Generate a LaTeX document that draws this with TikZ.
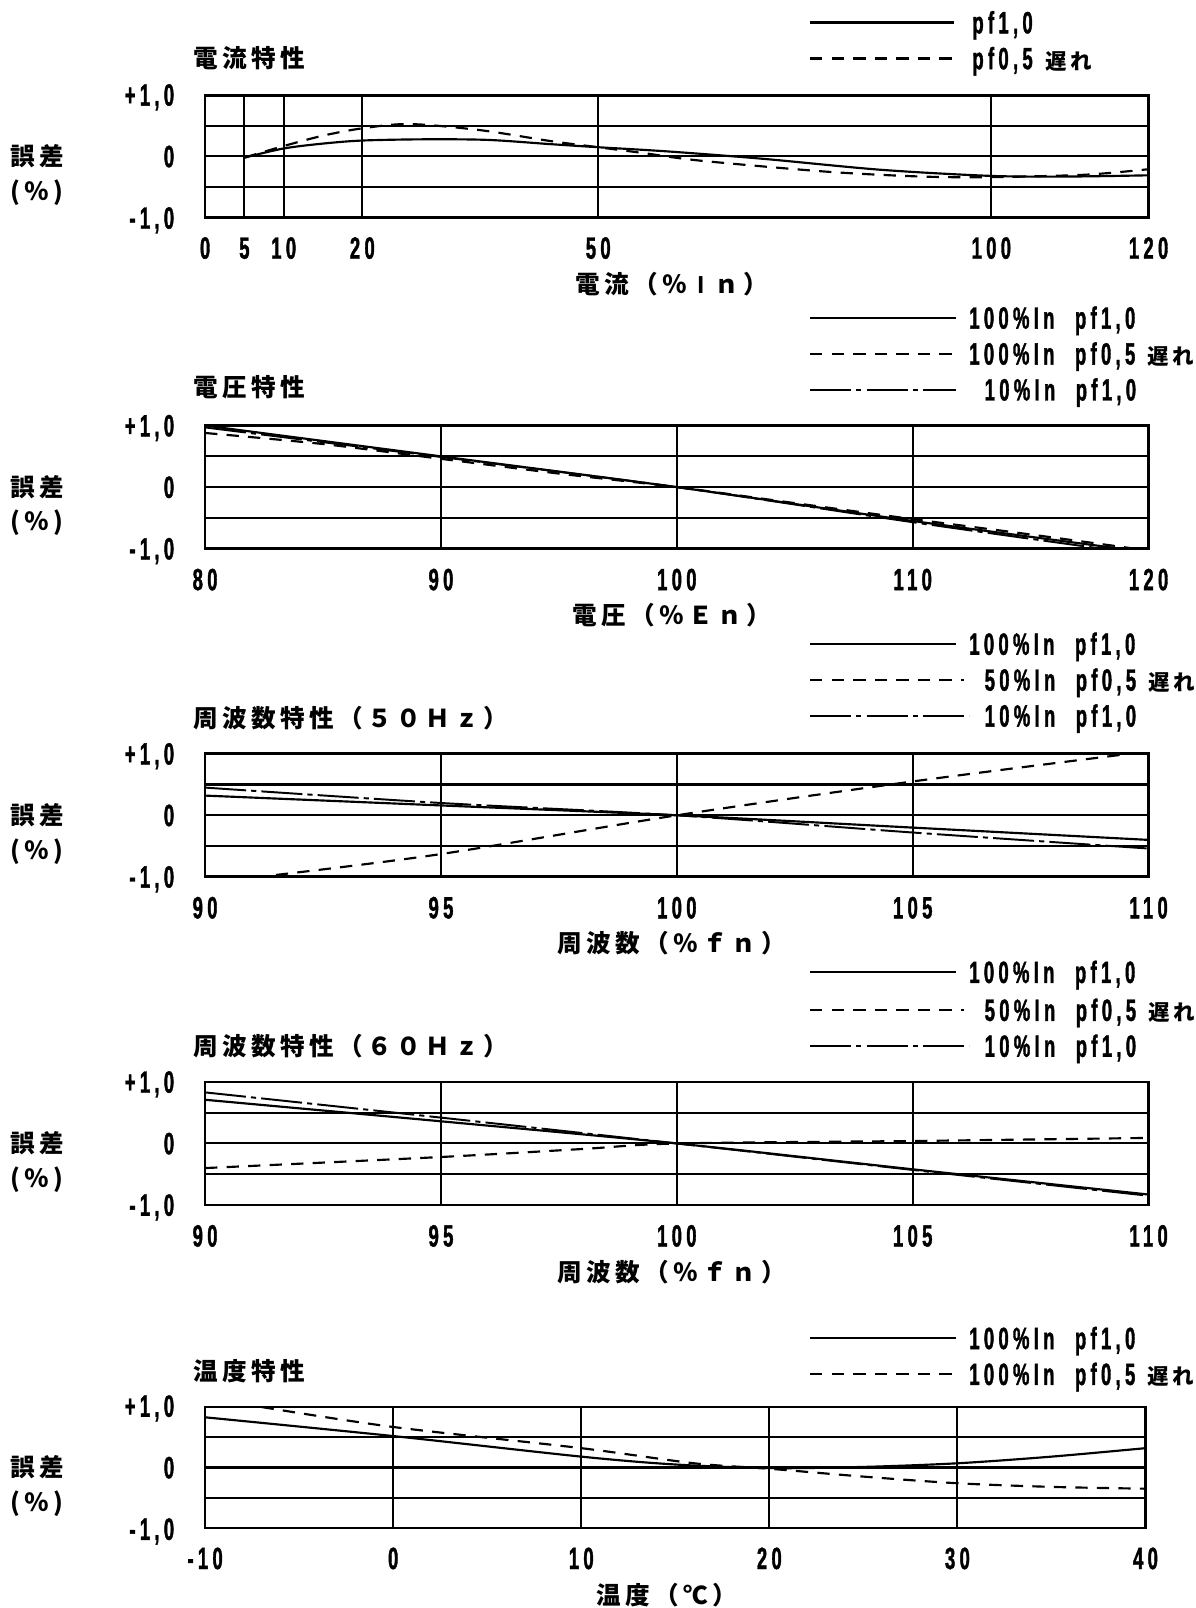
\documentclass[tikz,border=0pt]{standalone}
\usepackage{fontspec}
\newfontfamily\jpfont[LetterSpace=18]{Noto Sans CJK JP}
\newfontfamily\numfont[FakeStretch=0.6,FakeBold=1.2,LetterSpace=14]{Liberation Sans}
\newcommand{\lagtext}{{\jpfont\bfseries\fontsize{21}{21}\selectfont 遅れ}}
\newcommand{\barI}{\makebox[26pt]{\fontspec{Liberation Sans}\bfseries I}}

\begin{document}
\begin{tikzpicture}[x=1pt,y=-1pt,
    frame/.style={line width=2.6pt},
    grid line/.style={line width=2pt},
    pf one/.style={line width=2.1pt},
    pf half/.style={line width=2.1pt,dash pattern=on 12pt off 9pt},
    low load/.style={line width=1.9pt,dash pattern=on 40pt off 5pt on 5pt off 5pt},
    num/.style={font=\numfont\bfseries\fontsize{30}{30}\selectfont,inner sep=0pt,
                text height=21pt,text depth=0pt},
    jp/.style={font=\jpfont\bfseries\fontsize{24}{24}\selectfont,inner sep=0pt},
    legend text/.style={num,anchor=west}]

  \useasboundingbox (0,0) rectangle (1166,1568);

  % error axis labels, same for every chart
  \foreach \c [count=\k] in {152.5,475,795,1115,1431} {
    \node[num,anchor=east] (up\k) at (170,\c-60) {+1,0};
    \node[num,anchor=east] (mid\k) at (170,\c) {0};
    \node[num,anchor=east] (lo\k) at (170,\c+60) {-1,0};
    \node[jp] (err\k) at (36,\c) {誤差};
    \node[jp] (pct\k) at (36,\c+35) {(％)};
  }

  % current
  \node[jp,anchor=west] (ttl1) at (188,57) {電流特性};
  \draw[pf one] (790,22) -- (930,22);
  \node[legend text] (lg1a) at (948,22) {pf1,0};
  \draw[pf half] (790,57) -- (935,57);
  \node[legend text] (lg1b) at (948,57) {pf0,5\hspace{12pt}\lagtext};
  \begin{scope}[shift={(200,152.5)},x=7.6667pt,y=59.5pt]
    \foreach \v in {-0.5,0,0.5} \draw[grid line] (0,\v) -- (120,\v);
    \foreach \u in {5,10,20,50,100} \draw[grid line] (\u,-1) -- (\u,1);
    \draw[frame] (0,-1) rectangle (120,1);
    \foreach \u [count=\i] in {0,5,10,20,50,100,120}
      \node[num] (ia\i) at (\u,-1.5) {\u};
    \draw[pf one] plot[smooth] coordinates {(5,-0.02) (10,0.13) (15,0.21) (20,0.26)
      (28,0.28) (36,0.27) (44,0.2) (50,0.15) (59,0.08) (71,-0.04) (86,-0.22)
      (100,-0.32) (110,-0.33) (120,-0.31)};
    \draw[pf half] plot[smooth] coordinates {(5,-0.02) (10,0.17) (15,0.34) (20,0.46)
      (26,0.53) (35,0.43) (44,0.25) (50,0.15) (56,0.05) (63,-0.07) (79,-0.25)
      (91,-0.33) (100,-0.34) (112,-0.3) (120,-0.21)};
  \end{scope}
  \node[jp] (ax1) at (655,277) {電流（％\barI ｎ）};

  % voltage
  \node[jp,anchor=west] (ttl2) at (188,378) {電圧特性};
  \draw[pf one] (790,310) -- (932,310);
  \node[legend text] (lg2a) at (945,310) {100\%In\hspace{20pt}pf1,0};
  \draw[pf half] (790,345) -- (932,345);
  \node[legend text] (lg2b) at (945,345) {100\%In\hspace{20pt}pf0,5\hspace{12pt}\lagtext};
  \draw[low load] (790,380) -- (932,380);
  \node[legend text] (lg2c) at (960,380) {10\%In\hspace{20pt}pf1,0};
  \begin{scope}[shift={(200,475)},x=23pt,y=60pt,shift={(-80,0)}]
    \foreach \v in {-0.5,0,0.5} \draw[grid line] (80,\v) -- (120,\v);
    \foreach \u in {90,100,110} \draw[grid line] (\u,-1) -- (\u,1);
    \draw[frame] (80,-1) rectangle (120,1);
    \foreach \u [count=\i] in {80,90,100,110,120}
      \node[num] (ib\i) at (\u,-1.5) {\u};
    \draw[pf one] plot[smooth] coordinates {(80,1) (90,0.5) (100,0) (110,-0.55) (118.8,-1)};
    \draw[pf half] plot[smooth] coordinates {(80,0.88) (85,0.7) (90,0.46) (95,0.22)
      (100,0) (105,-0.26) (110,-0.52) (115,-0.77) (119.4,-1)};
    \draw[low load] plot[smooth] coordinates {(80,0.97) (90,0.49) (100,0) (110,-0.57) (118,-1)};
  \end{scope}
  \node[jp] (ax2) at (655,600) {電圧（％Ｅｎ）};

  % frequency 50Hz
  \node[jp,anchor=west] (ttl3) at (188,700) {周波数特性（５０Ｈｚ）};
  \draw[pf one] (790,628) -- (932,628);
  \node[legend text] (lg3a) at (945,628) {100\%In\hspace{20pt}pf1,0};
  \draw[pf half] (790,663) -- (940,663);
  \node[legend text] (lg3b) at (960,663) {50\%In\hspace{20pt}pf0,5\hspace{12pt}\lagtext};
  \draw[low load] (790,698) -- (945,698);
  \node[legend text] (lg3c) at (960,698) {10\%In\hspace{20pt}pf1,0};
  \begin{scope}[shift={(200,795)},x=46pt,y=60pt,shift={(-90,0)}]
    \foreach \v in {-0.5,0,0.5} \draw[grid line] (90,\v) -- (110,\v);
    \foreach \u in {95,100,105} \draw[grid line] (\u,-1) -- (\u,1);
    \draw[frame] (90,-1) rectangle (110,1);
    \foreach \u [count=\i] in {90,95,100,105,110}
      \node[num] (ic\i) at (\u,-1.5) {\u};
    \draw[pf one] plot[smooth] coordinates {(90,0.32) (95,0.16) (100,0) (105,-0.2) (110,-0.4)};
    \draw[pf half] plot[smooth] coordinates {(91.5,-0.97) (95,-0.63) (100,0) (105,0.55) (109.6,1)};
    \draw[low load] plot[smooth] coordinates {(90,0.45) (95,0.2) (100,0) (105,-0.28) (110,-0.54)};
  \end{scope}
  \node[jp] (ax3) at (655,920) {周波数（％ｆｎ）};

  % frequency 60Hz
  \node[jp,anchor=west] (ttl4) at (188,1020) {周波数特性（６０Ｈｚ）};
  \draw[pf one] (790,948) -- (932,948);
  \node[legend text] (lg4a) at (945,948) {100\%In\hspace{20pt}pf1,0};
  \draw[pf half] (790,985) -- (940,985);
  \node[legend text] (lg4b) at (960,985) {50\%In\hspace{20pt}pf0,5\hspace{12pt}\lagtext};
  \draw[low load] (790,1020) -- (945,1020);
  \node[legend text] (lg4c) at (960,1020) {10\%In\hspace{20pt}pf1,0};
  \begin{scope}[shift={(200,1115)},x=46pt,y=60pt,shift={(-90,0)}]
    \foreach \v in {-0.5,0,0.5} \draw[grid line] (90,\v) -- (110,\v);
    \foreach \u in {95,100,105} \draw[grid line] (\u,-1) -- (\u,1);
    \draw[frame] (90,-1) rectangle (110,1);
    \foreach \u [count=\i] in {90,95,100,105,110}
      \node[num] (id\i) at (\u,-1.5) {\u};
    \draw[pf one] plot[smooth] coordinates {(90,0.71) (95,0.36) (100,0) (105,-0.42) (110,-0.83)};
    \draw[pf half] plot[smooth] coordinates {(90,-0.4) (95,-0.22) (98,-0.09) (100,0)
      (105,0.04) (110,0.09)};
    \draw[low load] plot[smooth] coordinates {(90,0.83) (95,0.42) (100,0) (105,-0.43) (110,-0.85)};
  \end{scope}
  \node[jp] (ax4) at (655,1240) {周波数（％ｆｎ）};

  % temperature
  \node[jp,anchor=west] (ttl5) at (188,1337) {温度特性};
  \draw[pf one] (790,1305) -- (932,1305);
  \node[legend text] (lg5a) at (945,1305) {100\%In\hspace{20pt}pf1,0};
  \draw[pf half] (790,1340) -- (932,1340);
  \node[legend text] (lg5b) at (945,1340) {100\%In\hspace{20pt}pf0,5\hspace{12pt}\lagtext};
  \begin{scope}[shift={(200,1431)},x=18.34pt,y=59pt,shift={(10,0)}]
    \foreach \v in {-0.5,0,0.5} \draw[grid line] (-10,\v) -- (40,\v);
    \foreach \u in {0,10,20,30} \draw[grid line] (\u,-1) -- (\u,1);
    \draw[frame] (-10,-1) rectangle (40,1);
    \foreach \u [count=\i] in {-10,0,10,20,30,40}
      \node[num] (ie\i) at (\u,-1.5) {\u};
    \draw[pf one] plot[smooth] coordinates {(-10,0.83) (0,0.52) (10,0.18) (15,0.05)
      (20,-0.01) (25,0.01) (30,0.07) (35,0.18) (40,0.32)};
    \draw[pf half] plot[smooth] coordinates {(-7,1) (0,0.67) (10,0.32) (16,0.07)
      (20,-0.02) (25,-0.15) (30,-0.26) (35,-0.32) (40,-0.35)};
  \end{scope}
  \node[jp] (ax5) at (650,1555) {温度（℃）};
\end{tikzpicture}
\end{document}
